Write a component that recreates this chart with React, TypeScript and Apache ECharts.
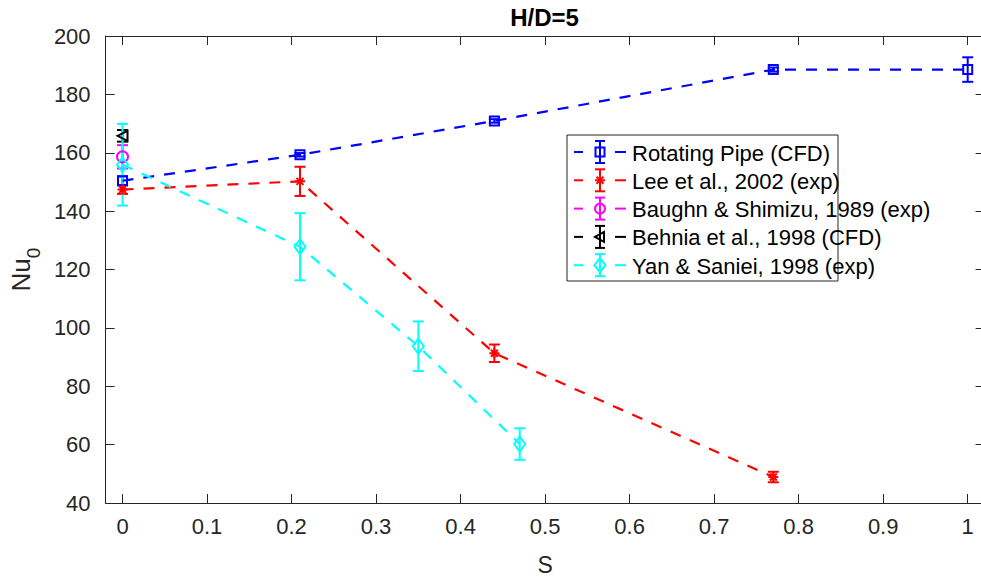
import React, { useEffect, useRef } from "react";
import * as echarts from "echarts";

// ---- data ----
const S_PIPE = [0, 0.21, 0.44, 0.77, 1];
const NU_PIPE = [150.4, 159.3, 170.9, 188.5, 188.5];
const ERR_PIPE = [1.5, 0.6, 0.6, 0.7, 4.2];

const S_LEE = [0, 0.21, 0.44, 0.77];
const NU_LEE = [147.4, 150.2, 91.3, 48.9];
const ERR_LEE = [1.5, 5.0, 3.0, 1.8];

const S_BAUGHN = [0];
const NU_BAUGHN = [158.6];
const ERR_BAUGHN = [4.0];

const S_BEHNIA = [0];
const NU_BEHNIA = [165.8];
const ERR_BEHNIA = [2.0];

const S_YAN = [0, 0.21, 0.35, 0.47];
const NU_YAN = [155.9, 127.8, 93.7, 60.2];
const ERR_YAN = [14.0, 11.5, 8.5, 5.4];

const X_TICKS = [0, 0.1, 0.2, 0.3, 0.4, 0.5, 0.6, 0.7, 0.8, 0.9, 1];

const NAMES = [
  "Rotating Pipe (CFD)",
  "Lee et al., 2002 (exp)",
  "Baughn & Shimizu, 1989 (exp)",
  "Behnia et al., 1998 (CFD)",
  "Yan & Saniei, 1998 (exp)",
];

const FONT = '"Liberation Sans", Arial, Helvetica, sans-serif';
const AXIS_COLOR = "#262626";
const ASTERISK = "path://M0,-10L0,10M-10,0L10,0M-7,-7L7,7M-7,7L7,-7";

const DATASETS = [
  { name: NAMES[0], s: S_PIPE, nu: NU_PIPE, err: ERR_PIPE, color: "#0000ff", symbol: "rect", size: 9, rotate: 0 },
  { name: NAMES[1], s: S_LEE, nu: NU_LEE, err: ERR_LEE, color: "#ff0000", symbol: ASTERISK, size: 10, rotate: 0 },
  { name: NAMES[2], s: S_BAUGHN, nu: NU_BAUGHN, err: ERR_BAUGHN, color: "#ff00ff", symbol: "circle", size: 11, rotate: 0 },
  { name: NAMES[3], s: S_BEHNIA, nu: NU_BEHNIA, err: ERR_BEHNIA, color: "#000000", symbol: "triangle", size: 10, rotate: 90 },
  { name: NAMES[4], s: S_YAN, nu: NU_YAN, err: ERR_YAN, color: "#00ffff", symbol: "diamond", size: [11, 15], rotate: 0 },
];

function fmtTick(v: number) {
  return String(Math.round(v * 10) / 10);
}

export default function App() {
  const ref = useRef<HTMLDivElement>(null);

  useEffect(() => {
    document.body.style.margin = "0";
    if (!ref.current) return;
    const chart = echarts.init(ref.current, null, { renderer: "svg" });

    const series: any[] = [];
    DATASETS.forEach((d) => {
      const color = d.color;
      series.push({
        type: "custom",
        name: d.name + " err",
        xAxisIndex: 0,
        yAxisIndex: 0,
        encode: { x: 0, y: [1, 2] },
        data: d.s.map((x, i) => [x, d.nu[i] - d.err[i], d.nu[i] + d.err[i]]),
        clip: false,
        renderItem: (params: any, api: any) => {
          const x = api.value(0);
          const lo = api.value(1);
          const hi = api.value(2);
          const p1 = api.coord([x, hi]);
          const p2 = api.coord([x, lo]);
          const w = 5.5;
          const style = { stroke: color, lineWidth: 2, fill: "none" };
          return {
            type: "group",
            children: [
              { type: "line", shape: { x1: p1[0], y1: p1[1], x2: p2[0], y2: p2[1] }, style },
              { type: "line", shape: { x1: p1[0] - w, y1: p1[1], x2: p1[0] + w, y2: p1[1] }, style },
              { type: "line", shape: { x1: p2[0] - w, y1: p2[1], x2: p2[0] + w, y2: p2[1] }, style },
            ],
          };
        },
      });
      series.push({
        type: "line",
        name: d.name,
        xAxisIndex: 0,
        yAxisIndex: 0,
        data: d.s.map((x, i) => [x, d.nu[i]]),
        symbol: d.symbol,
        symbolSize: d.size,
        symbolRotate: d.rotate,
        showAllSymbol: true,
        lineStyle: { color, width: 2.2, type: [11, 10] },
        itemStyle: { color: "rgba(0,0,0,0)", borderColor: color, borderWidth: 2 },
        emphasis: { disabled: true },
      });
    });

    // legend (drawn as graphic)
    const lgLeft = 567;
    const lgTop = 135;
    const lgW = 271;
    const lgH = 146;
    const rowY0 = 152;
    const rowStep = 28.3;
    const legendChildren: any[] = [
      {
        type: "rect",
        shape: { x: lgLeft, y: lgTop, width: lgW, height: lgH },
        style: { fill: "#ffffff", stroke: AXIS_COLOR, lineWidth: 1 },
      },
    ];
    DATASETS.forEach((d, i) => {
      const cy = rowY0 + i * rowStep;
      const st = { stroke: d.color, lineWidth: 2, fill: "none" };
      legendChildren.push(
        { type: "line", shape: { x1: 574, y1: cy, x2: 583, y2: cy }, style: st },
        { type: "line", shape: { x1: 615, y1: cy, x2: 626, y2: cy }, style: st },
        { type: "line", shape: { x1: 600, y1: cy - 11, x2: 600, y2: cy + 11 }, style: st },
        { type: "line", shape: { x1: 595, y1: cy - 11, x2: 605, y2: cy - 11 }, style: st },
        { type: "line", shape: { x1: 595, y1: cy + 11, x2: 605, y2: cy + 11 }, style: st }
      );
      if (i === 0) {
        legendChildren.push({ type: "rect", shape: { x: 595.5, y: cy - 4.5, width: 9, height: 9 }, style: st });
      } else if (i === 1) {
        legendChildren.push(
          { type: "line", shape: { x1: 595, y1: cy, x2: 605, y2: cy }, style: st },
          { type: "line", shape: { x1: 596.5, y1: cy - 3.5, x2: 603.5, y2: cy + 3.5 }, style: st },
          { type: "line", shape: { x1: 596.5, y1: cy + 3.5, x2: 603.5, y2: cy - 3.5 }, style: st }
        );
      } else if (i === 2) {
        legendChildren.push({ type: "circle", shape: { cx: 600, cy, r: 5 }, style: st });
      } else if (i === 3) {
        legendChildren.push({
          type: "polygon",
          shape: { points: [[595, cy], [604, cy - 5], [604, cy + 5]] },
          style: st,
        });
      } else {
        legendChildren.push({
          type: "polygon",
          shape: { points: [[600, cy - 7], [605.5, cy], [600, cy + 7], [594.5, cy]] },
          style: st,
        });
      }
      legendChildren.push({
        type: "text",
        x: 632,
        y: cy + 1,
        style: {
          text: d.name,
          font: `22px ${FONT}`,
          fill: "#000000",
          textVerticalAlign: "middle",
          verticalAlign: "middle",
        },
      });
    });

    const xTickCommon = {
      show: true,
      inside: true,
      length: 9,
      customValues: X_TICKS,
      lineStyle: { color: AXIS_COLOR, width: 1 },
    };
    const yTickCommon = {
      show: true,
      inside: true,
      length: 9,
      lineStyle: { color: AXIS_COLOR, width: 1 },
    };

    chart.setOption({
      animation: false,
      backgroundColor: "#ffffff",
      grid: { left: 104.5, top: 36, width: 880.1, height: 468, containLabel: false },
      xAxis: [
        {
          type: "value",
          position: "bottom",
          min: -0.02,
          max: 1.02,
          axisLine: { show: true, onZero: false, lineStyle: { color: AXIS_COLOR, width: 1 } },
          axisTick: xTickCommon,
          axisLabel: {
            show: true,
            customValues: X_TICKS,
            formatter: (v: number) => fmtTick(v),
            fontSize: 22,
            fontFamily: FONT,
            color: AXIS_COLOR,
            margin: 12,
          },
          splitLine: { show: false },
          name: "S",
          nameLocation: "middle",
          nameGap: 50,
          nameTextStyle: { fontSize: 23, fontFamily: FONT, color: AXIS_COLOR },
        },
        {
          type: "value",
          position: "top",
          min: -0.02,
          max: 1.02,
          axisLine: { show: true, onZero: false, lineStyle: { color: AXIS_COLOR, width: 1 } },
          axisTick: xTickCommon,
          axisLabel: { show: false },
          splitLine: { show: false },
        },
      ],
      yAxis: [
        {
          type: "value",
          position: "left",
          min: 40,
          max: 200,
          interval: 20,
          axisLine: { show: true, onZero: false, lineStyle: { color: AXIS_COLOR, width: 1 } },
          axisTick: yTickCommon,
          axisLabel: {
            show: true,
            fontSize: 22,
            fontFamily: FONT,
            color: AXIS_COLOR,
            margin: 15,
          },
          splitLine: { show: false },
          name: "Nu{sub|0}",
          nameLocation: "middle",
          nameGap: 66,
          nameRotate: 90,
          nameTextStyle: {
            fontSize: 26,
            fontFamily: FONT,
            color: AXIS_COLOR,
            rich: {
              sub: { fontSize: 19, fontFamily: FONT, color: AXIS_COLOR, verticalAlign: "bottom", padding: [0, 0, -9, 0] },
            },
          },
        },
        {
          type: "value",
          position: "right",
          min: 40,
          max: 200,
          interval: 20,
          axisLine: { show: true, onZero: false, lineStyle: { color: AXIS_COLOR, width: 1 } },
          axisTick: yTickCommon,
          axisLabel: { show: false },
          splitLine: { show: false },
        },
      ],
      graphic: [
        {
          type: "text",
          x: 544.5,
          y: 17,
          z: 100,
          style: {
            text: "H/D=5",
            font: `bold 24px ${FONT}`,
            fill: "#000000",
            textAlign: "center",
            textVerticalAlign: "middle",
            align: "center",
            verticalAlign: "middle",
          },
        },
        { type: "group", z: 100, children: legendChildren },
      ],
      series,
    });

    return () => chart.dispose();
  }, []);

  return (
    <div
      style={{
        position: "absolute",
        left: 0,
        top: 0,
        width: 981,
        height: 581,
        overflow: "hidden",
        background: "#ffffff",
      }}
    >
      <div ref={ref} style={{ width: 992, height: 581 }} />
    </div>
  );
}
